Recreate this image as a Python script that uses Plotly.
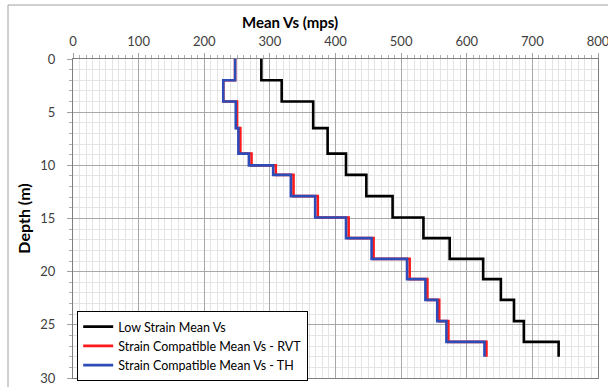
import plotly.graph_objects as go

# Layer top depths (m) and bottom depth
depth_top = [0, 2, 4, 6.5, 8.9, 10, 10.9, 12.9, 14.9, 16.85, 18.8, 20.7, 22.65, 24.65, 26.6]
depth_bottom = 28

# Mean Vs (mps) per layer
low_strain = [287, 318, 366, 388, 416, 416, 447, 487, 534, 574, 625, 652, 672, 687, 740]
rvt = [247, 229, 250, 255, 272, 309, 336, 373, 420, 458, 513, 540, 558, 572, 630]
th = [247, 229, 248, 252, 268, 305, 332, 369, 416, 455, 509, 537, 555, 569, 627]

series = [
    ("Low Strain Mean Vs", low_strain, "#000000"),
    ("Strain Compatible Mean Vs - RVT", rvt, "#ff1a1a"),
    ("Strain Compatible Mean Vs - TH", th, "#2e4cb8"),
]

FONT = "Lato"
W, H = 608, 387
L, R, T, B = 73, 10, 59, 9
PW, PH = W - L - R, H - T - B


def px_x(px):
    return (px - L) / PW


def px_y(py):
    return 1 - (py - T) / PH


fig = go.Figure()
for name, vals, color in series:
    xs = list(vals) + [vals[-1]]
    ys = list(depth_top) + [depth_bottom]
    fig.add_trace(go.Scatter(
        x=xs, y=ys, mode="lines", name=name,
        line=dict(color=color, width=2.6, shape="vh"),
    ))

fig.update_layout(
    width=W, height=H,
    margin=dict(l=L, r=R, t=T, b=B, pad=0, autoexpand=False),
    paper_bgcolor="white", plot_bgcolor="white",
    font=dict(family=FONT, size=13, color="#404040"),
    showlegend=True,
    legend=dict(
        x=0.008, y=px_y(311), xanchor="left", yanchor="top",
        bgcolor="white", bordercolor="#000000", borderwidth=1,
        font=dict(family=FONT, size=12.5, color="#000000"),
        itemwidth=30, tracegroupgap=0,
    ),
    xaxis=dict(
        side="top", range=[0, 800], dtick=100, tick0=0, automargin=False,
        showgrid=True, gridcolor="#a8a8a8", gridwidth=1,
        ticks="outside", ticklen=5, tickcolor="#a0a0a0",
        showline=True, linecolor="#7f7f7f", linewidth=1, mirror=True,
        zeroline=False, ticklabeloverflow="allow",
        minor=dict(dtick=10, showgrid=True, gridcolor="#e4e4e4", gridwidth=1,
                   ticks="outside", ticklen=3, tickcolor="#b0b0b0"),
        ticklabelstandoff=2,
    ),
    yaxis=dict(
        range=[30, 0], dtick=5, tick0=0, automargin=False,
        title=dict(text="<b>Depth (m)</b>", font=dict(size=16, color="#000000"), standoff=5),
        showgrid=True, gridcolor="#a8a8a8", gridwidth=1,
        ticks="outside", ticklen=5, tickcolor="#a0a0a0",
        showline=True, linecolor="#7f7f7f", linewidth=1, mirror=True,
        zeroline=False, ticklabeloverflow="allow",
        minor=dict(dtick=1, showgrid=True, gridcolor="#e4e4e4", gridwidth=1,
                   ticks="outside", ticklen=3, tickcolor="#b0b0b0"),
        ticklabelstandoff=9,
    ),
    annotations=[
        dict(text="<b>Mean Vs (mps)</b>", xref="paper", yref="paper",
             x=px_x(290), y=px_y(22), xanchor="center", yanchor="middle",
             showarrow=False, font=dict(family=FONT, size=15, color="#000000")),
    ],
    shapes=[
        dict(type="line", xref="paper", yref="paper",
             x0=px_x(8), x1=px_x(620), y0=px_y(5), y1=px_y(5),
             line=dict(color="#a0a0a0", width=1)),
        dict(type="line", xref="paper", yref="paper",
             x0=px_x(8), x1=px_x(8), y0=px_y(400), y1=px_y(5),
             line=dict(color="#a0a0a0", width=1)),
    ],
)

fig.write_html("out.html")
